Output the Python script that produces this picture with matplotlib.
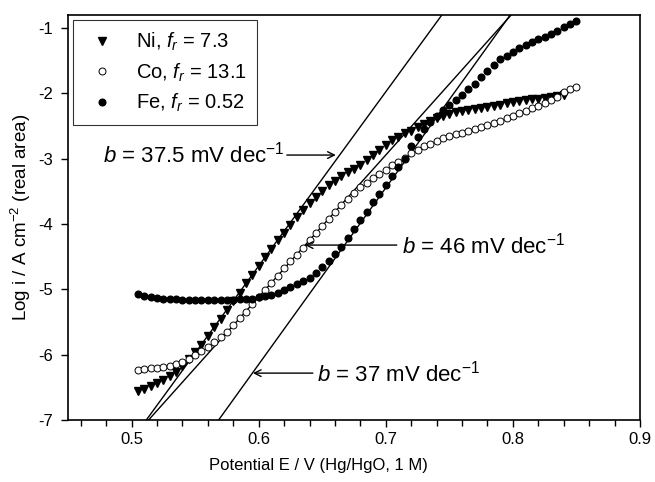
import matplotlib
matplotlib.use("Agg")
import matplotlib.pyplot as plt
from matplotlib.ticker import MultipleLocator
import numpy as np

plt.rcParams['font.family'] = ['Liberation Sans', 'DejaVu Sans']
plt.rcParams['mathtext.fontset'] = 'custom'
plt.rcParams['mathtext.rm'] = 'Liberation Sans'
plt.rcParams['mathtext.it'] = 'Liberation Sans:italic'
plt.rcParams['axes.unicode_minus'] = False

# ---- data ----
E_fe = [0.505, 0.51, 0.515, 0.52, 0.525, 0.53, 0.535, 0.54, 0.545, 0.55,
        0.555, 0.56, 0.565, 0.57, 0.575, 0.58, 0.585, 0.59, 0.595, 0.60,
        0.605, 0.61, 0.615, 0.62, 0.625, 0.63, 0.635, 0.64, 0.645, 0.65,
        0.655, 0.66, 0.665, 0.67, 0.675, 0.68, 0.685, 0.69, 0.695, 0.70,
        0.705, 0.71, 0.715, 0.72, 0.725, 0.73, 0.735, 0.74, 0.745, 0.75,
        0.755, 0.76, 0.765, 0.77, 0.775, 0.78, 0.785, 0.79, 0.795, 0.80,
        0.805, 0.81, 0.815, 0.82, 0.825, 0.83, 0.835, 0.84, 0.845, 0.85]
logi_fe = [-5.07, -5.10, -5.12, -5.13, -5.14, -5.15, -5.155, -5.16, -5.165, -5.17,
           -5.17, -5.17, -5.17, -5.17, -5.165, -5.16, -5.155, -5.15, -5.14, -5.12,
           -5.10, -5.08, -5.05, -5.01, -4.97, -4.92, -4.87, -4.82, -4.75, -4.66,
           -4.56, -4.46, -4.35, -4.21, -4.08, -3.94, -3.81, -3.67, -3.54, -3.40,
           -3.27, -3.13, -3.00, -2.80, -2.66, -2.54, -2.44, -2.34, -2.26, -2.18,
           -2.10, -2.02, -1.94, -1.85, -1.75, -1.65, -1.56, -1.48, -1.42, -1.36,
           -1.31, -1.26, -1.21, -1.17, -1.13, -1.09, -1.04, -0.99, -0.94, -0.89]

E_co = E_fe
logi_co = [-6.23, -6.22, -6.21, -6.20, -6.19, -6.18, -6.15, -6.11, -6.06, -6.01,
           -5.95, -5.89, -5.81, -5.73, -5.65, -5.55, -5.44, -5.34, -5.23, -5.12,
           -5.01, -4.90, -4.79, -4.68, -4.57, -4.47, -4.36, -4.25, -4.14, -4.03,
           -3.93, -3.82, -3.71, -3.61, -3.52, -3.44, -3.37, -3.30, -3.24, -3.17,
           -3.10, -3.05, -2.99, -2.92, -2.86, -2.81, -2.77, -2.73, -2.69, -2.65,
           -2.62, -2.60, -2.57, -2.54, -2.51, -2.48, -2.45, -2.42, -2.38, -2.34,
           -2.30, -2.27, -2.23, -2.19, -2.15, -2.10, -2.05, -1.98, -1.93, -1.90]

E_ni = E_fe[:-2]
logi_ni = [-6.55, -6.52, -6.48, -6.44, -6.39, -6.33, -6.26, -6.17, -6.07, -5.96,
           -5.85, -5.72, -5.58, -5.45, -5.32, -5.18, -5.05, -4.91, -4.78, -4.64,
           -4.51, -4.38, -4.25, -4.13, -4.01, -3.89, -3.78, -3.68, -3.58, -3.49,
           -3.41, -3.34, -3.27, -3.21, -3.15, -3.09, -3.02, -2.95, -2.87, -2.79,
           -2.71, -2.66, -2.61, -2.57, -2.52, -2.47, -2.43, -2.38, -2.34, -2.31,
           -2.29, -2.27, -2.255, -2.245, -2.22, -2.21, -2.20, -2.18, -2.15, -2.13,
           -2.11, -2.10, -2.09, -2.08, -2.07, -2.05, -2.04, -2.03]

labels = [r'Ni, $f_r$ = 7.3', r'Co, $f_r$ = 13.1', r'Fe, $f_r$ = 0.52']

# Tafel lines: slope b (V/dec) and potential at log i = -7
tafel_b = [0.0375, 0.046, 0.037]
tafel_E0 = [0.5116, 0.5134, 0.5685]
tafel_text = [r'$b$ = 37.5 mV dec$^{-1}$', r'$b$ = 46 mV dec$^{-1}$', r'$b$ = 37 mV dec$^{-1}$']

# ---- figure ----
fig = plt.figure(figsize=(6.55, 4.82), dpi=100)
ax = fig.add_axes([68/655, 1-420/482, 572/655, 405/482])

logi_span = np.array([-7.0, -0.8])
for b, e0 in zip(tafel_b, tafel_E0):
    ax.plot(e0 + b*(logi_span + 7), logi_span, color='black', lw=1.0, zorder=2)

ax.plot(E_ni, logi_ni, 'v', color='black', ms=5.5, mec='black', label=labels[0], zorder=3)
ax.plot(E_co, logi_co, 'o', mfc='white', mec='black', mew=0.7, ms=5, label=labels[1], zorder=3)
ax.plot(E_fe, logi_fe, 'o', color='black', ms=4.8, label=labels[2], zorder=4)

ax.set_xlim(0.45, 0.9)
ax.set_ylim(-7, -0.8)
ax.xaxis.set_major_locator(MultipleLocator(0.1))
ax.xaxis.set_minor_locator(MultipleLocator(0.02))
ax.set_yticks([-7, -6, -5, -4, -3, -2, -1])
ax.tick_params(axis='both', which='major', direction='out', length=5, width=1.0,
               labelsize=12, top=False, right=False)
ax.tick_params(axis='y', which='major', pad=6)
ax.tick_params(axis='x', which='major', pad=4)
ax.tick_params(axis='x', which='minor', direction='out', length=4, width=1.0)
ax.xaxis.set_major_formatter(plt.FuncFormatter(lambda v, p: f'{v:.1f}'))
ax.yaxis.set_major_formatter(plt.FuncFormatter(lambda v, p: f'{int(round(v))}'))
for s in ax.spines.values():
    s.set_linewidth(1.2)

ax.set_xlabel('Potential E / V (Hg/HgO, 1 M)', fontsize=12)
ax.xaxis.set_label_coords((318 - 68)/572, (420 - 458)/405)
ax.set_ylabel(r'Log i / A cm$^{-2}$ (real area)', fontsize=13.5)
ax.yaxis.set_label_coords((33 - 68)/572, 0.5)

leg = ax.legend(loc='upper left', bbox_to_anchor=(0.009, 0.988), borderaxespad=0,
                fontsize=14.5, frameon=True, fancybox=False, edgecolor='black',
                handletextpad=0.75, labelspacing=0.4, borderpad=0.55,
                handlelength=1.8, markerscale=1.0)
leg.get_frame().set_linewidth(0.8)

def px2data(x, y):
    return 0.45 + (x - 68)/1272, -0.8 - (y - 15)/65.3

# annotation 37.5
tx, ty = px2data(103, 155)
ax.text(tx, ty, tafel_text[0], fontsize=16, ha='left', va='center')
a0 = px2data(287, 155); a1 = px2data(336, 155)
ax.annotate('', xy=a1, xytext=a0,
            arrowprops=dict(arrowstyle='->', lw=1.0, color='black', shrinkA=0, shrinkB=0,
                            mutation_scale=12))
# annotation 46
tx, ty = px2data(402, 245)
ax.text(tx, ty, tafel_text[1], fontsize=16, ha='left', va='center')
a0 = px2data(397, 245); a1 = px2data(305, 245)
ax.annotate('', xy=a1, xytext=a0,
            arrowprops=dict(arrowstyle='->', lw=1.0, color='black', shrinkA=0, shrinkB=0,
                            mutation_scale=12))
# annotation 37
tx, ty = px2data(317, 373)
ax.text(tx, ty, tafel_text[2], fontsize=16, ha='left', va='center')
a0 = px2data(313, 373); a1 = px2data(253, 373)
ax.annotate('', xy=a1, xytext=a0,
            arrowprops=dict(arrowstyle='->', lw=1.0, color='black', shrinkA=0, shrinkB=0,
                            mutation_scale=12))

fig.savefig('out.png', dpi=100)
